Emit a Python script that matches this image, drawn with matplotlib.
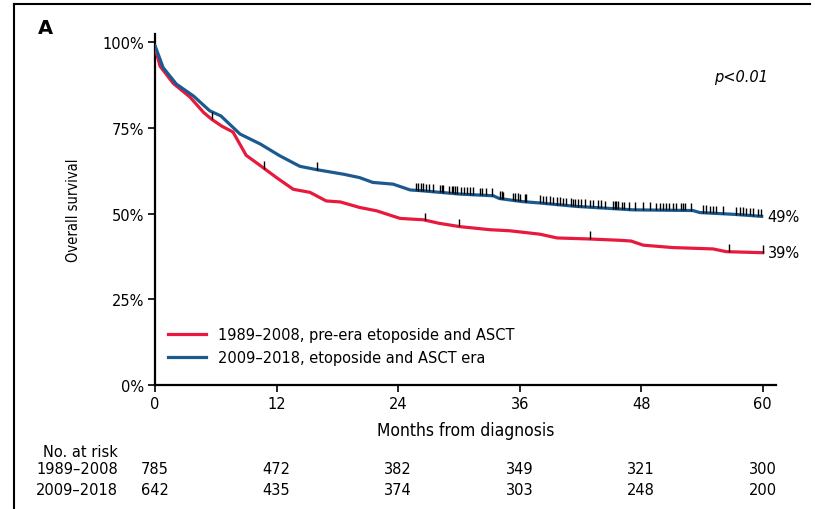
import numpy as np
import matplotlib
matplotlib.use("Agg")
import matplotlib.pyplot as plt
from matplotlib.lines import Line2D

# ======================
# DATA
# ======================
red_t = [0, 0.5, 1.8, 3.45, 4.8, 5.6, 6.6, 7.7, 9.0, 10.4, 12.0, 13.65, 15.3, 16.9,
         18.3, 20.2, 21.9, 24.2, 26.5, 28.0, 30.1, 33.1, 35.0, 38.0, 39.7, 42.9,
         46.0, 47.0, 48.2, 51.1, 55.1, 56.4, 60.0]
red_s = [98.5, 93.0, 88.0, 84.0, 79.5, 77.5, 75.5, 73.8, 67.0, 64.0, 60.5, 57.1, 56.2, 53.7,
         53.4, 51.8, 50.8, 48.6, 48.2, 47.2, 46.2, 45.3, 45.0, 44.0, 42.9, 42.6,
         42.2, 42.0, 40.8, 40.1, 39.7, 38.9, 38.6]

blue_t = [0, 0.8, 2.1, 3.8, 5.4, 6.5, 8.4, 10.4, 12.3, 14.3, 16.0, 18.6, 20.2, 21.5,
          23.5, 25.2, 26.2, 30.1, 33.4, 34.0, 36.3, 38.0, 41.6, 47.2, 53.1, 53.8,
          57.1, 59.9]
blue_s = [99.0, 92.6, 87.8, 84.3, 80.0, 78.5, 73.2, 70.3, 66.9, 63.8, 62.8, 61.5, 60.5, 59.1,
          58.6, 56.9, 56.7, 55.7, 55.2, 54.4, 53.5, 53.1, 52.1, 51.1, 50.9, 50.3,
          49.8, 49.2]

red_cens = [5.6, 10.8, 26.7, 30.0, 42.9, 56.7, 60.0]
blue_cens = [15.96, 25.76, 25.99, 26.22, 26.48, 26.74, 27.01, 27.4, 28.13, 28.29, 28.45,
             29.05, 29.28, 29.44, 29.61, 29.84, 30.17, 30.49, 30.76, 31.09, 31.35,
             32.07, 32.24, 32.67, 33.32, 34.05, 34.21, 34.38, 35.36, 35.53, 35.86,
             36.02, 36.51, 36.61, 37.99, 38.32, 38.65, 38.98, 39.31, 39.64, 39.97,
             40.3, 40.62, 41.12, 41.28, 41.45, 41.78, 42.1, 42.43, 42.93, 43.26,
             43.75, 44.08, 44.41, 45.23, 45.4, 45.56, 45.73, 46.15, 46.28, 46.81,
             47.37, 48.19, 48.85, 49.51, 49.84, 50.17, 50.49, 50.76, 51.15, 51.48,
             51.97, 52.14, 52.3, 52.96, 54.11, 54.44, 54.77, 55.1, 55.43, 56.09,
             57.4, 57.73, 58.06, 58.39, 58.72, 59.05, 59.54, 59.87]

labels = ["1989\u20132008, pre-era etoposide and ASCT",
          "2009\u20132018, etoposide and ASCT era"]
end_labels = ["39%", "49%"]
risk_times = [0, 12, 24, 36, 48, 60]
risk_groups = ["1989\u20132008", "2009\u20132018"]
risk_red = [785, 472, 382, 349, 321, 300]
risk_blue = [642, 435, 374, 303, 248, 200]

RED = "#e8193c"
BLUE = "#1b5a8e"

# ======================
# FIGURE
# ======================
fig = plt.figure(figsize=(8.15, 5.1), dpi=100)
ax = fig.add_axes([0.1902, 0.2431, 0.952 - 0.1902, 0.9314 - 0.2431])

ax.plot(red_t, red_s, color=RED, lw=2.3, label=labels[0], zorder=3,
        solid_joinstyle="round")
ax.plot(blue_t, blue_s, color=BLUE, lw=2.3, label=labels[1], zorder=3,
        solid_joinstyle="round")

# censor ticks
ry = np.interp(red_cens, red_t, red_s)
by = np.interp(blue_cens, blue_t, blue_s)
ax.vlines(red_cens, ry, ry + 2.2, color="black", lw=1.0, zorder=4)
ax.vlines(blue_cens, by, by + 2.2, color="black", lw=1.0, zorder=4)

ax.set_xlim(0, 61.3)
ax.set_ylim(0, 102.4)
ax.set_xticks(risk_times)
ax.set_yticks([0, 25, 50, 75, 100])
ax.set_yticklabels(["0%", "25%", "50%", "75%", "100%"])
ax.tick_params(labelsize=10.5, length=5, width=1.2, direction="out", pad=3)
for s in ["top", "right"]:
    ax.spines[s].set_visible(False)
for s in ["left", "bottom"]:
    ax.spines[s].set_linewidth(1.6)

ax.set_ylabel("Overall survival", family="DejaVu Sans", stretch="condensed",
              fontsize=10.5, labelpad=15)
ax.set_xlabel("Months from diagnosis", family="DejaVu Sans", stretch="condensed",
              fontsize=12.5, labelpad=7)

ax.text(60.5, red_s[-1], end_labels[0], fontsize=10.5, va="center", ha="left")
ax.text(60.5, blue_s[-1], end_labels[1], fontsize=10.5, va="center", ha="left")
ax.text(55.2, 90, "p<0.01", fontsize=10.5, style="italic", va="center", ha="left")

leg = ax.legend(loc="lower left", bbox_to_anchor=(0.0, 0.02), frameon=False,
                fontsize=10.5, handlelength=2.6, handletextpad=0.8, labelspacing=0.55)

# risk table
tr = ax.get_xaxis_transform()
ax.text(-3.65, -0.188, "No. at risk", transform=tr, ha="right", va="center",
        fontsize=10.5, clip_on=False)
for row_y, name, vals in [(-0.239, risk_groups[0], risk_red),
                          (-0.299, risk_groups[1], risk_blue)]:
    ax.text(-3.65, row_y, name, transform=tr, ha="right", va="center",
            fontsize=10.5, clip_on=False)
    for t, v in zip(risk_times, vals):
        ax.text(t, row_y, str(v), transform=tr, ha="center", va="center",
                fontsize=10.5, clip_on=False)

# panel letter and frame
fig.text(38 / 815, 1 - 28 / 510, "A", fontsize=14, fontweight="bold", va="center")
fig.add_artist(Line2D([14 / 815, 14 / 815], [0, 1 - 5 / 510], color="black", lw=1.5))
fig.add_artist(Line2D([14 / 815, 810 / 815], [1 - 5 / 510, 1 - 5 / 510], color="black", lw=1.5))

fig.savefig("out.png", dpi=100)
